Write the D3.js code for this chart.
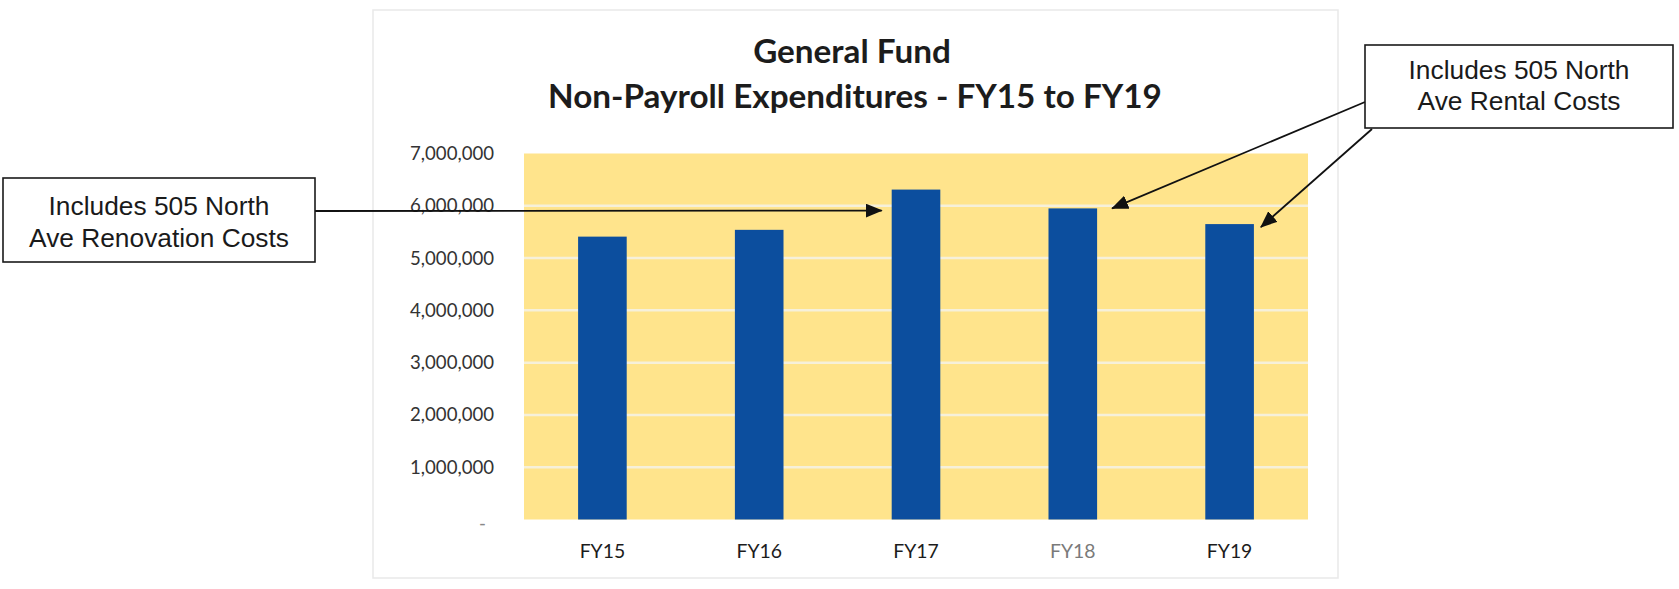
<!DOCTYPE html>
<html>
<head>
<meta charset="utf-8">
<script src="https://cdn.jsdelivr.net/npm/d3@7"></script>
<style>
  html, body { margin: 0; padding: 0; background: #ffffff; }
  svg { display: block; }
</style>
</head>
<body>
<svg id="chart" width="1679" height="589"></svg>
<script>
// ---- data ----
const categories = ["FY15", "FY16", "FY17", "FY18", "FY19"];
const values = [5410000, 5540000, 6310000, 5950000, 5650000];
const yTicks = [0, 1000000, 2000000, 3000000, 4000000, 5000000, 6000000, 7000000];
const titleLines = ["General Fund", "Non-Payroll Expenditures - FY15 to FY19"];
const renovationNote = ["Includes 505 North", "Ave Renovation Costs"];
const rentalNote = ["Includes 505 North", "Ave Rental Costs"];

// ---- layout ----
const svg = d3.select("#chart");
const plot = { left: 524, right: 1308, top: 153.5, bottom: 519.5 };

const x = d3.scaleBand()
  .domain(categories)
  .range([plot.left, plot.right])
  .paddingInner(0.69)
  .paddingOuter(0.345);

const y = d3.scaleLinear()
  .domain([0, 7000000])
  .range([plot.bottom, plot.top]);

function fitWidth(sel, target) {
  const w = sel.node().getComputedTextLength();
  const fs = parseFloat(sel.attr("font-size"));
  const nf = fs * target / w;
  sel.attr("font-size", nf);
  return nf;
}

// faint chart frame
svg.append("rect")
  .attr("x", 373).attr("y", 10)
  .attr("width", 965).attr("height", 568)
  .attr("fill", "none")
  .attr("stroke", "#e9e9e9")
  .attr("stroke-width", 1.5);

// plot background
svg.append("rect")
  .attr("x", plot.left).attr("y", plot.top)
  .attr("width", plot.right - plot.left)
  .attr("height", plot.bottom - plot.top)
  .attr("fill", "#FFE48C");

// gridlines
svg.append("g")
  .selectAll("line")
  .data(yTicks.filter(d => d > 0 && d < 7000000))
  .join("line")
  .attr("x1", plot.left).attr("x2", plot.right)
  .attr("y1", d => y(d)).attr("y2", d => y(d))
  .attr("stroke", "#F6F0DA")
  .attr("stroke-width", 2.5);

// bars
svg.append("g")
  .selectAll("rect")
  .data(values)
  .join("rect")
  .attr("x", (d, i) => x(categories[i]))
  .attr("width", x.bandwidth())
  .attr("y", d => y(d))
  .attr("height", d => y(0) - y(d))
  .attr("fill", "#0C4E9E");

// y axis
const yAxis = d3.axisLeft(y)
  .tickValues(yTicks)
  .tickSize(0)
  .tickPadding(0)
  .tickFormat(d => d === 0 ? "-" : d3.format(",")(d));

const yG = svg.append("g")
  .attr("transform", `translate(494,0)`)
  .call(yAxis);
yG.select(".domain").remove();
yG.selectAll("text")
  .attr("font-family", "Lato, 'Open Sans', sans-serif")
  .attr("font-size", 20)
  .attr("fill", "#333333");
const topLabel = yG.selectAll("text").filter(d => d === 7000000);
const yFs = fitWidth(topLabel, 84);
yG.selectAll("text").attr("font-size", yFs);
yG.selectAll("text").filter(d => d === 0)
  .attr("x", -8)
  .attr("dy", "0.55em")
  .attr("fill", "#888888");

// x axis
const xAxis = d3.axisBottom(x).tickSize(0).tickPadding(0);
const xG = svg.append("g")
  .attr("transform", `translate(0,544)`)
  .call(xAxis);
xG.select(".domain").remove();
xG.selectAll("text")
  .attr("font-family", "Lato, 'Open Sans', sans-serif")
  .attr("font-size", 22)
  .attr("dy", "0.71em")
  .attr("fill", d => d === "FY18" ? "#7a7a7a" : "#1c1c1c");
const xFs = fitWidth(xG.selectAll("text").filter(d => d === "FY15"), 45.5);
xG.selectAll("text").attr("font-size", xFs);

// title
const title = svg.append("g")
  .attr("font-family", "Lato, 'Open Sans', sans-serif")
  .attr("font-weight", "bold")
  .attr("fill", "#1c1c1c")
  .attr("text-anchor", "middle");
const t1 = title.append("text").attr("x", 852).attr("y", 62.5).attr("font-size", 26).text(titleLines[0]);
const t2 = title.append("text").attr("x", 855).attr("y", 107.5).attr("font-size", 26).text(titleLines[1]);
const tFs = fitWidth(t2, 614);
t1.attr("font-size", tFs);

// arrow marker
svg.append("defs").append("marker")
  .attr("id", "arrow")
  .attr("markerUnits", "userSpaceOnUse")
  .attr("markerWidth", 17).attr("markerHeight", 14)
  .attr("refX", 16).attr("refY", 7)
  .attr("orient", "auto")
  .append("path")
  .attr("d", "M0,0 L17,7 L0,14 Z")
  .attr("fill", "#111");

// annotation boxes
function noteBox(bx, by, bw, bh, lines, baselines) {
  const g = svg.append("g");
  g.append("rect")
    .attr("x", bx).attr("y", by).attr("width", bw).attr("height", bh)
    .attr("fill", "#ffffff").attr("stroke", "#1a1a1a").attr("stroke-width", 1.6);
  const texts = lines.map((l, i) =>
    g.append("text")
      .attr("x", bx + bw / 2).attr("y", baselines[i])
      .attr("text-anchor", "middle")
      .attr("font-family", "'Liberation Sans', Arial, sans-serif")
      .attr("font-size", 26)
      .attr("fill", "#1a1a1a")
      .text(l));
  const fs = fitWidth(texts[0], 221);
  texts.forEach(t => t.attr("font-size", fs));
}

// arrows (tips anchored to bars via scales)
const i17 = categories.indexOf("FY17");
const i18 = categories.indexOf("FY18");
const i19 = categories.indexOf("FY19");
const arrows = [
  { x1: 315, y1: 211, x2: x("FY17") - 10, y2: y(values[i17]) + 21 },
  { x1: 1365, y1: 102, x2: x("FY18") + x.bandwidth() + 15, y2: y(values[i18]) },
  { x1: 1372, y1: 129, x2: x("FY19") + x.bandwidth() + 7, y2: y(values[i19]) + 3 }
];
svg.append("g")
  .selectAll("line")
  .data(arrows)
  .join("line")
  .attr("x1", d => d.x1).attr("y1", d => d.y1)
  .attr("x2", d => d.x2).attr("y2", d => d.y2)
  .attr("stroke", "#111")
  .attr("stroke-width", 1.8)
  .attr("marker-end", "url(#arrow)");

noteBox(3, 178, 312, 84, renovationNote, [215, 247]);
noteBox(1365, 45, 308, 83, rentalNote, [79, 110]);
</script>
</body>
</html>
